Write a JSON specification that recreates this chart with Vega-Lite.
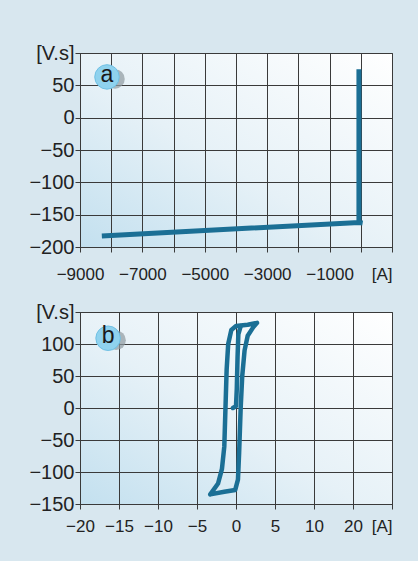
{
  "$schema": "https://vega.github.io/schema/vega-lite/v6.json",
  "background": "#d8e7ef",
  "padding": {"left": 28, "top": 42, "right": 28, "bottom": 26},
  "spacing": 18,
  "config": {
    "view": {
      "stroke": "#3a3a3a",
      "strokeWidth": 1,
      "fill": {
        "gradient": "linear",
        "x1": 0, "y1": 1, "x2": 1, "y2": 0,
        "stops": [
          {"offset": 0, "color": "#c3e0ef"},
          {"offset": 0.45, "color": "#e6f1f7"},
          {"offset": 1, "color": "#ffffff"}
        ]
      }
    },
    "axis": {
      "grid": true,
      "gridColor": "#3a3a3a",
      "gridOpacity": 1,
      "gridWidth": 1,
      "domainColor": "#3a3a3a",
      "tickColor": "#3a3a3a",
      "tickSize": 5,
      "labelFont": "Liberation Sans",
      "labelColor": "#222222",
      "labelOverlap": false,
      "labelFlush": false,
      "title": null
    },
    "axisX": {"labelFontSize": 17, "labelPadding": 8},
    "axisY": {"labelFontSize": 20, "labelPadding": 1}
  },
  "vconcat": [
    {
      "width": 312,
      "height": 194,
      "encoding": {
        "x": {"field": "current", "type": "quantitative",
          "scale": {"domain": [-9000, 1000], "nice": false, "zero": false},
          "axis": {
            "values": [-9000, -8000, -7000, -6000, -5000, -4000, -3000, -2000, -1000, 0, 1000],
            "format": "d",
            "labelPadding": 14,
            "labelExpr": "datum.value == 1000 ? '[A]' : (abs(datum.value) % 2000 == 1000 ? datum.label : '')",
            "labelAlign": {"condition": {"test": "datum.value == 1000", "value": "right"}, "value": "center"}
          }},
        "y": {"field": "flux", "type": "quantitative",
          "scale": {"domain": [-200, 100], "nice": false, "zero": false},
          "axis": {
            "values": [-200, -150, -100, -50, 0, 50, 100],
            "format": "d",
            "labelExpr": "datum.value == 100 ? '[V.s]' : datum.label"
          }}
      },
      "layer": [
        {
          "data": {"values": [
            {"i": 1, "current": -8300, "flux": -183},
            {"i": 2, "current": -60, "flux": -162},
            {"i": 3, "current": 60, "flux": -163},
            {"i": 4, "current": -60, "flux": -162},
            {"i": 5, "current": -60, "flux": 75}
          ]},
          "mark": {"type": "line", "color": "#1b6f95", "strokeWidth": 5, "strokeJoin": "miter", "strokeCap": "butt"},
          "encoding": {"order": {"field": "i"}}
        },
        {
          "data": {"values": [{"current": -8135, "flux": 63, "tag": "a"}]},
          "mark": {"type": "circle", "size": 380, "color": "#8f9aa0", "opacity": 0.7, "xOffset": 8, "yOffset": 2}
        },
        {
          "data": {"values": [{"current": -8135, "flux": 63, "tag": "a"}]},
          "mark": {"type": "circle", "size": 600, "color": "#8fd2ee", "opacity": 1, "stroke": "#6fc0e4", "strokeWidth": 1}
        },
        {
          "data": {"values": [{"current": -8135, "flux": 63, "tag": "a"}]},
          "mark": {"type": "text", "font": "Liberation Sans", "fontSize": 23, "color": "#1a1a1a", "dy": -2},
          "encoding": {"text": {"field": "tag"}}
        }
      ]
    },
    {
      "width": 312,
      "height": 192,
      "encoding": {
        "x": {"field": "current", "type": "quantitative",
          "scale": {"domain": [-20, 20], "nice": false, "zero": false},
          "axis": {
            "values": [-20, -15, -10, -5, 0, 5, 10, 15, 20],
            "format": "d",
            "labelPadding": 9,
            "labelExpr": "datum.value == 15 ? '20' : (datum.value == 20 ? '[A]' : datum.label)",
            "labelAlign": {"condition": {"test": "datum.value == 20", "value": "right"}, "value": "center"}
          }},
        "y": {"field": "flux", "type": "quantitative",
          "scale": {"domain": [-150, 150], "nice": false, "zero": false},
          "axis": {
            "values": [-150, -100, -50, 0, 50, 100, 150],
            "format": "d",
            "labelExpr": "datum.value == 150 ? '[V.s]' : datum.label"
          }}
      },
      "layer": [
        {
          "data": {"values": [
            {"s": "loop", "i": 1, "current": -3.3, "flux": -135},
            {"s": "loop", "i": 2, "current": -2.3, "flux": -118},
            {"s": "loop", "i": 3, "current": -1.8, "flux": -95},
            {"s": "loop", "i": 4, "current": -1.5, "flux": -60},
            {"s": "loop", "i": 5, "current": -1.35, "flux": 0},
            {"s": "loop", "i": 6, "current": -1.2, "flux": 60},
            {"s": "loop", "i": 7, "current": -1.0, "flux": 100},
            {"s": "loop", "i": 8, "current": -0.6, "flux": 122},
            {"s": "loop", "i": 9, "current": 0.0, "flux": 128},
            {"s": "loop", "i": 10, "current": 1.5, "flux": 130},
            {"s": "loop", "i": 11, "current": 2.7, "flux": 133},
            {"s": "loop", "i": 12, "current": 2.2, "flux": 126},
            {"s": "loop", "i": 13, "current": 1.5, "flux": 113},
            {"s": "loop", "i": 14, "current": 1.1, "flux": 90},
            {"s": "loop", "i": 15, "current": 0.8, "flux": 50},
            {"s": "loop", "i": 16, "current": 0.6, "flux": 0},
            {"s": "loop", "i": 17, "current": 0.4, "flux": -70},
            {"s": "loop", "i": 18, "current": 0.25, "flux": -112},
            {"s": "loop", "i": 19, "current": -0.1, "flux": -128},
            {"s": "loop", "i": 20, "current": -1.5, "flux": -131},
            {"s": "loop", "i": 21, "current": -3.3, "flux": -135},
            {"s": "initial", "i": 1, "current": -0.4, "flux": 0},
            {"s": "initial", "i": 2, "current": 0.0, "flux": 3},
            {"s": "initial", "i": 3, "current": 0.1, "flux": 30},
            {"s": "initial", "i": 4, "current": 0.2, "flux": 80},
            {"s": "initial", "i": 5, "current": 0.3, "flux": 115},
            {"s": "initial", "i": 6, "current": 0.6, "flux": 128}
          ]},
          "mark": {"type": "line", "color": "#1b6f95", "strokeWidth": 4.5, "strokeJoin": "round", "strokeCap": "round"},
          "encoding": {
            "detail": {"field": "s"},
            "order": {"field": "i"}
          }
        },
        {
          "data": {"values": [{"current": -16.4, "flux": 109, "tag": "b"}]},
          "mark": {"type": "circle", "size": 380, "color": "#8f9aa0", "opacity": 0.7, "xOffset": 8, "yOffset": 2}
        },
        {
          "data": {"values": [{"current": -16.4, "flux": 109, "tag": "b"}]},
          "mark": {"type": "circle", "size": 600, "color": "#8fd2ee", "opacity": 1, "stroke": "#6fc0e4", "strokeWidth": 1}
        },
        {
          "data": {"values": [{"current": -16.4, "flux": 109, "tag": "b"}]},
          "mark": {"type": "text", "font": "Liberation Sans", "fontSize": 23, "color": "#1a1a1a", "dy": -2},
          "encoding": {"text": {"field": "tag"}}
        }
      ]
    }
  ]
}
